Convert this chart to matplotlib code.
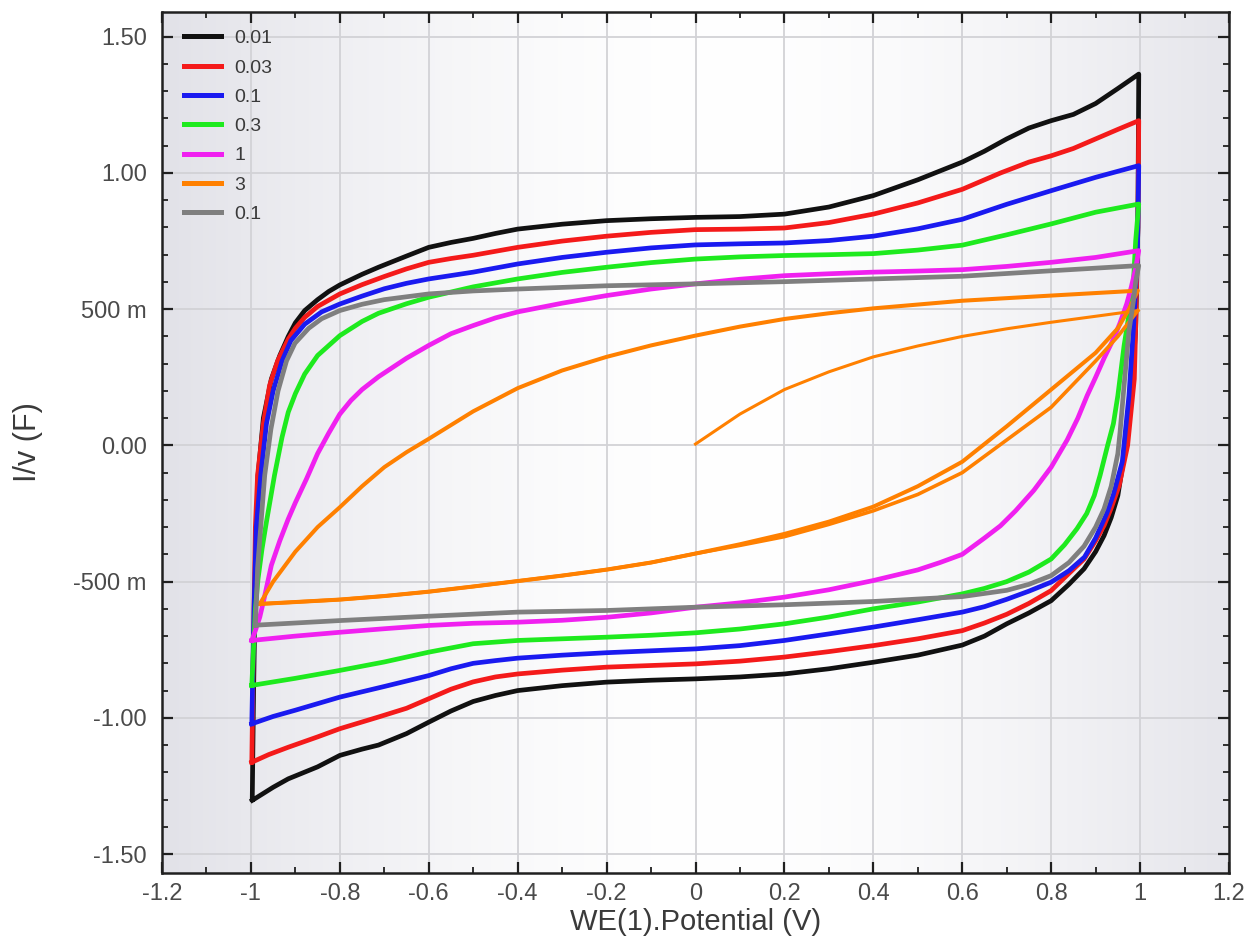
import numpy as np
import matplotlib
matplotlib.use("Agg")
import matplotlib.pyplot as plt
from matplotlib.ticker import MultipleLocator, FuncFormatter

plt.rcParams['font.family'] = ['Liberation Sans', 'DejaVu Sans']

# legend labels (scan rates) in drawing order
labels = ["0.01", "0.03", "0.1", "0.3", "1", "3", "0.1"]
colors = ["#111111", "#f41a1a", "#1a1af0", "#1eea1e", "#f020f0", "#ff8000", "#7f7f7f"]

# ---- values: forward (upper) and reverse (lower) scans ----
# 0.01
black_up_x = [-0.997, -0.994, -0.99, -0.984, -0.972, -0.954, -0.935, -0.916, -0.9, -0.879, -0.85, -0.825, -0.8,
              -0.75, -0.713, -0.65, -0.6, -0.55, -0.5, -0.45, -0.4, -0.3, -0.2, -0.1, 0.0, 0.1, 0.2, 0.3, 0.4,
              0.5, 0.6, 0.65, 0.7, 0.75, 0.8, 0.85, 0.9, 0.95, 0.997]
black_up_y = [-1.30, -0.9, -0.5, -0.11, 0.1, 0.244, 0.33, 0.40, 0.45, 0.495, 0.535, 0.565, 0.589, 0.628,
              0.654, 0.695, 0.727, 0.745, 0.76, 0.778, 0.794, 0.812, 0.825, 0.832, 0.837, 0.84, 0.849, 0.875,
              0.917, 0.975, 1.04, 1.08, 1.125, 1.165, 1.192, 1.215, 1.255, 1.31, 1.363]
black_dn_x = [0.997, 0.995, 0.99, 0.983, 0.968, 0.95, 0.935, 0.919, 0.9, 0.874, 0.84, 0.8, 0.75, 0.7, 0.65,
              0.6, 0.5, 0.4, 0.3, 0.2, 0.1, 0.0, -0.1, -0.2, -0.3, -0.4, -0.45, -0.5, -0.55, -0.6, -0.65,
              -0.713, -0.75, -0.8, -0.85, -0.916, -0.95, -0.997]
black_dn_y = [1.363, 0.8, 0.428, 0.244, 0.0, -0.184, -0.265, -0.331, -0.39, -0.453, -0.51, -0.57, -0.615,
              -0.655, -0.7, -0.733, -0.77, -0.796, -0.82, -0.839, -0.85, -0.857, -0.862, -0.869, -0.882,
              -0.9, -0.918, -0.94, -0.975, -1.016, -1.058, -1.10, -1.115, -1.138, -1.18, -1.224, -1.255,
              -1.303]
# 0.03
red_up_x = [-0.998, -0.995, -0.993, -0.99, -0.985, -0.972, -0.958, -0.94, -0.916, -0.9, -0.879, -0.85, -0.8,
            -0.75, -0.7, -0.65, -0.6, -0.55, -0.5, -0.4, -0.3, -0.2, -0.1, 0.0, 0.1, 0.2, 0.3, 0.4, 0.5,
            0.6, 0.686, 0.75, 0.8, 0.85, 0.9, 0.95, 0.997]
red_up_y = [-1.163, -0.8, -0.6, -0.3, -0.11, 0.08, 0.22, 0.31, 0.39, 0.43, 0.47, 0.51, 0.556, 0.59, 0.62,
            0.648, 0.672, 0.686, 0.698, 0.727, 0.75, 0.768, 0.782, 0.792, 0.794, 0.798, 0.818, 0.849, 0.89,
            0.94, 1.0, 1.04, 1.063, 1.09, 1.125, 1.16, 1.192]
red_dn_x = [0.997, 0.995, 0.99, 0.987, 0.972, 0.953, 0.935, 0.919, 0.9, 0.874, 0.84, 0.8, 0.75, 0.7, 0.65,
            0.6, 0.5, 0.4, 0.3, 0.2, 0.1, 0.0, -0.1, -0.2, -0.3, -0.4, -0.45, -0.5, -0.55, -0.6, -0.65,
            -0.713, -0.8, -0.85, -0.916, -0.96, -0.998]
red_dn_y = [1.192, 0.8, 0.428, 0.244, 0.0, -0.147, -0.23, -0.294, -0.35, -0.417, -0.47, -0.533, -0.58,
            -0.62, -0.652, -0.68, -0.71, -0.735, -0.757, -0.777, -0.792, -0.802, -0.808, -0.814, -0.825,
            -0.839, -0.85, -0.868, -0.895, -0.93, -0.965, -0.997, -1.04, -1.07, -1.108, -1.135, -1.163]
# 0.1
blue_up_x = [-0.998, -0.993, -0.988, -0.978, -0.965, -0.95, -0.93, -0.91, -0.879, -0.841, -0.8, -0.75, -0.7,
             -0.65, -0.6, -0.5, -0.4, -0.3, -0.2, -0.1, 0.0, 0.1, 0.2, 0.3, 0.4, 0.5, 0.6, 0.7, 0.8, 0.9,
             0.997]
blue_up_y = [-1.022, -0.6, -0.3, -0.11, 0.08, 0.2, 0.31, 0.385, 0.445, 0.49, 0.519, 0.548, 0.575, 0.595,
             0.611, 0.636, 0.666, 0.69, 0.709, 0.725, 0.736, 0.74, 0.743, 0.752, 0.768, 0.795, 0.83, 0.885,
             0.935, 0.984, 1.027]
blue_dn_x = [0.997, 0.994, 0.985, 0.975, 0.96, 0.94, 0.925, 0.9, 0.875, 0.84, 0.8, 0.75, 0.7, 0.65, 0.6,
             0.5, 0.4, 0.3, 0.2, 0.1, 0.0, -0.1, -0.2, -0.3, -0.4, -0.45, -0.5, -0.55, -0.6, -0.7, -0.8,
             -0.9, -0.95, -0.998]
blue_dn_y = [1.027, 0.7, 0.428, 0.183, -0.06, -0.18, -0.25, -0.34, -0.41, -0.46, -0.502, -0.535, -0.565,
             -0.592, -0.612, -0.64, -0.667, -0.692, -0.716, -0.735, -0.747, -0.754, -0.761, -0.77, -0.781,
             -0.79, -0.8, -0.82, -0.845, -0.885, -0.924, -0.972, -0.995, -1.022]
# 0.3
green_up_x = [-0.998, -0.99, -0.984, -0.975, -0.965, -0.947, -0.93, -0.916, -0.9, -0.879, -0.85, -0.8, -0.75,
              -0.713, -0.65, -0.6, -0.5, -0.4, -0.3, -0.2, -0.1, 0.0, 0.1, 0.2, 0.3, 0.4, 0.5, 0.6, 0.7,
              0.8, 0.9, 0.997]
green_up_y = [-0.881, -0.6, -0.49, -0.38, -0.28, -0.11, 0.03, 0.122, 0.19, 0.262, 0.33, 0.403, 0.455,
              0.485, 0.52, 0.544, 0.582, 0.611, 0.635, 0.654, 0.671, 0.684, 0.692, 0.697, 0.7, 0.704, 0.717,
              0.735, 0.773, 0.813, 0.856, 0.886]
green_dn_x = [0.997, 0.99, 0.985, 0.975, 0.964, 0.95, 0.94, 0.927, 0.91, 0.897, 0.88, 0.858, 0.83, 0.8,
              0.75, 0.7, 0.65, 0.6, 0.5, 0.4, 0.3, 0.2, 0.1, 0.0, -0.1, -0.2, -0.3, -0.4, -0.5, -0.6, -0.7,
              -0.8, -0.9, -0.998]
green_dn_y = [0.886, 0.75, 0.6, 0.48, 0.366, 0.183, 0.08, 0.0, -0.11, -0.184, -0.25, -0.306, -0.365,
              -0.417, -0.465, -0.5, -0.525, -0.545, -0.575, -0.6, -0.63, -0.655, -0.674, -0.688, -0.697,
              -0.704, -0.71, -0.716, -0.728, -0.759, -0.795, -0.826, -0.855, -0.881]
# 1
magenta_up_x = [-0.998, -0.99, -0.98, -0.97, -0.954, -0.935, -0.916, -0.9, -0.875, -0.85, -0.825, -0.8, -0.775,
                -0.75, -0.713, -0.65, -0.6, -0.55, -0.5, -0.45, -0.4, -0.3, -0.2, -0.1, 0.0, 0.1, 0.2, 0.3,
                0.4, 0.5, 0.6, 0.7, 0.8, 0.9, 0.997]
magenta_up_y = [-0.716, -0.68, -0.63, -0.56, -0.44, -0.35, -0.27, -0.21, -0.123, -0.03, 0.045, 0.115, 0.165,
                0.205, 0.252, 0.32, 0.367, 0.41, 0.44, 0.468, 0.49, 0.522, 0.55, 0.574, 0.593, 0.61, 0.623,
                0.63, 0.636, 0.64, 0.645, 0.657, 0.672, 0.69, 0.715]
magenta_dn_x = [0.997, 0.99, 0.98, 0.97, 0.955, 0.94, 0.919, 0.9, 0.881, 0.86, 0.836, 0.8, 0.761, 0.72,
                0.686, 0.65, 0.6, 0.55, 0.5, 0.4, 0.3, 0.2, 0.1, 0.0, -0.1, -0.2, -0.3, -0.4, -0.5, -0.6,
                -0.7, -0.8, -0.9, -0.998]
magenta_dn_y = [0.715, 0.65, 0.58, 0.52, 0.45, 0.39, 0.32, 0.25, 0.183, 0.1, 0.02, -0.08, -0.165, -0.24,
                -0.295, -0.34, -0.4, -0.43, -0.457, -0.496, -0.53, -0.557, -0.578, -0.594, -0.615, -0.631,
                -0.642, -0.649, -0.653, -0.661, -0.673, -0.686, -0.7, -0.716]
# 3 (initial sweep from 0 V, two reverse sweeps, one full forward sweep)
orange_init_x = [0.0, 0.05, 0.1, 0.2, 0.3, 0.4, 0.5, 0.6, 0.7, 0.8, 0.9, 0.995]
orange_init_y = [0.005, 0.06, 0.115, 0.205, 0.27, 0.325, 0.365, 0.4, 0.428, 0.452, 0.474, 0.495]
orange_rev1_x = [0.995, 0.95, 0.9, 0.8, 0.7, 0.6, 0.5, 0.4, 0.3, 0.2, 0.1]
orange_rev1_y = [0.495, 0.40, 0.31, 0.14, 0.02, -0.10, -0.18, -0.24, -0.29, -0.335, -0.367]
orange_rev2_x = [0.995, 0.975, 0.95, 0.9, 0.8, 0.7, 0.6, 0.5, 0.4, 0.3, 0.2, 0.1]
orange_rev2_y = [0.568, 0.5, 0.43, 0.34, 0.205, 0.07, -0.06, -0.15, -0.225, -0.28, -0.325, -0.363]
orange_rev_x = [0.0, -0.1, -0.2, -0.3, -0.4, -0.5, -0.6, -0.7, -0.8, -0.9, -0.98]
orange_rev_y = [-0.397, -0.43, -0.456, -0.478, -0.498, -0.518, -0.537, -0.553, -0.566, -0.575, -0.582]
orange_up_x = [-0.98, -0.95, -0.9, -0.85, -0.8, -0.75, -0.7, -0.65, -0.6, -0.5, -0.4, -0.3, -0.2, -0.1, 0.0,
               0.1, 0.2, 0.3, 0.4, 0.6, 0.8, 0.995]
orange_up_y = [-0.582, -0.5, -0.39, -0.3, -0.227, -0.15, -0.08, -0.025, 0.024, 0.125, 0.21, 0.275, 0.325,
               0.367, 0.403, 0.436, 0.464, 0.485, 0.503, 0.531, 0.55, 0.568]
# 0.1 (repeat)
gray_up_x = [-0.99, -0.987, -0.985, -0.978, -0.969, -0.955, -0.939, -0.92, -0.901, -0.87, -0.841, -0.8, -0.75,
             -0.7, -0.6, -0.5, -0.4, -0.2, 0.0, 0.2, 0.4, 0.6, 0.8, 0.997]
gray_up_y = [-0.66, -0.55, -0.45, -0.3, -0.11, 0.06, 0.2, 0.31, 0.375, 0.43, 0.465, 0.495, 0.518, 0.535,
             0.556, 0.567, 0.574, 0.586, 0.593, 0.601, 0.611, 0.621, 0.641, 0.66]
gray_dn_x = [0.997, 0.99, 0.985, 0.975, 0.964, 0.955, 0.95, 0.935, 0.919, 0.9, 0.874, 0.84, 0.8, 0.75, 0.7,
             0.6, 0.4, 0.2, 0.0, -0.2, -0.4, -0.6, -0.8, -0.99]
gray_dn_y = [0.66, 0.6, 0.53, 0.42, 0.22, 0.05, -0.03, -0.15, -0.233, -0.3, -0.37, -0.43, -0.478, -0.51,
             -0.532, -0.555, -0.573, -0.585, -0.594, -0.606, -0.612, -0.627, -0.643, -0.66]

xticks = [-1.2, -1.0, -0.8, -0.6, -0.4, -0.2, 0.0, 0.2, 0.4, 0.6, 0.8, 1.0, 1.2]
yticks = [-1.5, -1.0, -0.5, 0.0, 0.5, 1.0, 1.5]
xlim = (-1.2, 1.2)
ylim = (-1.571, 1.592)

fig = plt.figure(figsize=(12.5, 9.52), dpi=100)
ax = fig.add_axes([0.1296, 0.0826, 0.8536, 0.9051])

# shaded background, grey at the sides, white in the middle
gx = np.linspace(xlim[0], xlim[1], 500)
t = (np.abs(gx - 0.05) / 1.25) ** 1.6
edge = np.array([0.885, 0.885, 0.91])
bg = 1 - (1 - edge)[None, :] * t[:, None]
ax.imshow(bg[None, :, :], extent=[xlim[0], xlim[1], ylim[0], ylim[1]], aspect='auto', zorder=0)

lw = 3.4
loops = [
    (black_up_x + black_dn_x, black_up_y + black_dn_y),
    (red_up_x + red_dn_x, red_up_y + red_dn_y),
    (blue_up_x + blue_dn_x, blue_up_y + blue_dn_y),
    (green_up_x + green_dn_x, green_up_y + green_dn_y),
    (magenta_up_x + magenta_dn_x, magenta_up_y + magenta_dn_y),
    None,
    (gray_up_x + gray_dn_x, gray_up_y + gray_dn_y),
]
for i, loop in enumerate(loops):
    if loop is None:
        # scan rate 3: several segments
        c = colors[i]
        ax.plot(orange_init_x, orange_init_y, color=c, lw=2.2, zorder=3, solid_joinstyle='round')
        ax.plot(orange_rev1_x + orange_rev_x, orange_rev1_y + orange_rev_y, color=c, lw=2.6, zorder=3,
                solid_joinstyle='round')
        ax.plot(orange_up_x + orange_rev2_x + orange_rev_x, orange_up_y + orange_rev2_y + orange_rev_y,
                color=c, lw=2.9, zorder=3, label=labels[i], solid_joinstyle='round')
        continue
    ax.plot(loop[0], loop[1], color=colors[i], lw=lw, zorder=3, label=labels[i],
            solid_joinstyle='round')

ax.set_xlim(*xlim)
ax.set_ylim(*ylim)
ax.set_xticks(xticks)
ax.set_yticks(yticks)
ax.xaxis.set_minor_locator(MultipleLocator(0.1))
ax.yaxis.set_minor_locator(MultipleLocator(0.1))


def yfmt(v, pos):
    if abs(abs(v) - 0.5) < 1e-6:
        return ("-" if v < 0 else "") + "500 m"
    return "%.2f" % v


ax.yaxis.set_major_formatter(FuncFormatter(yfmt))
ax.xaxis.set_major_formatter(FuncFormatter(lambda v, p: "%g" % round(v, 1) if abs(v) > 1e-9 else "0"))

ax.grid(True, which='major', color='#d2d2d6', lw=1.3, zorder=1)
ax.tick_params(which='both', direction='in', top=True, right=True, colors='#202020',
               labelcolor='#4a4a4a')
ax.tick_params(which='major', length=8, width=1.6, labelsize=17)
ax.tick_params(axis='y', which='major', pad=11)
ax.tick_params(axis='x', which='major', pad=7)
ax.tick_params(which='minor', length=4, width=1.3)
for s in ax.spines.values():
    s.set_color('#202020')
    s.set_linewidth(1.8)

ax.set_xlabel("WE(1).Potential (V)", fontsize=21, color='#3a3a3a', labelpad=2)
ax.set_ylabel("I/v (F)", fontsize=22, color='#3a3a3a', labelpad=22)

leg = ax.legend(loc='upper left', bbox_to_anchor=(0.008, 0.995), frameon=False, fontsize=14,
                handlelength=1.9, handletextpad=0.7, labelspacing=0.6, borderaxespad=0.3)
for txt in leg.get_texts():
    txt.set_color('#3a3a3a')
for h in leg.get_lines():
    h.set_linewidth(3.6)

fig.savefig("out.png", dpi=100)
